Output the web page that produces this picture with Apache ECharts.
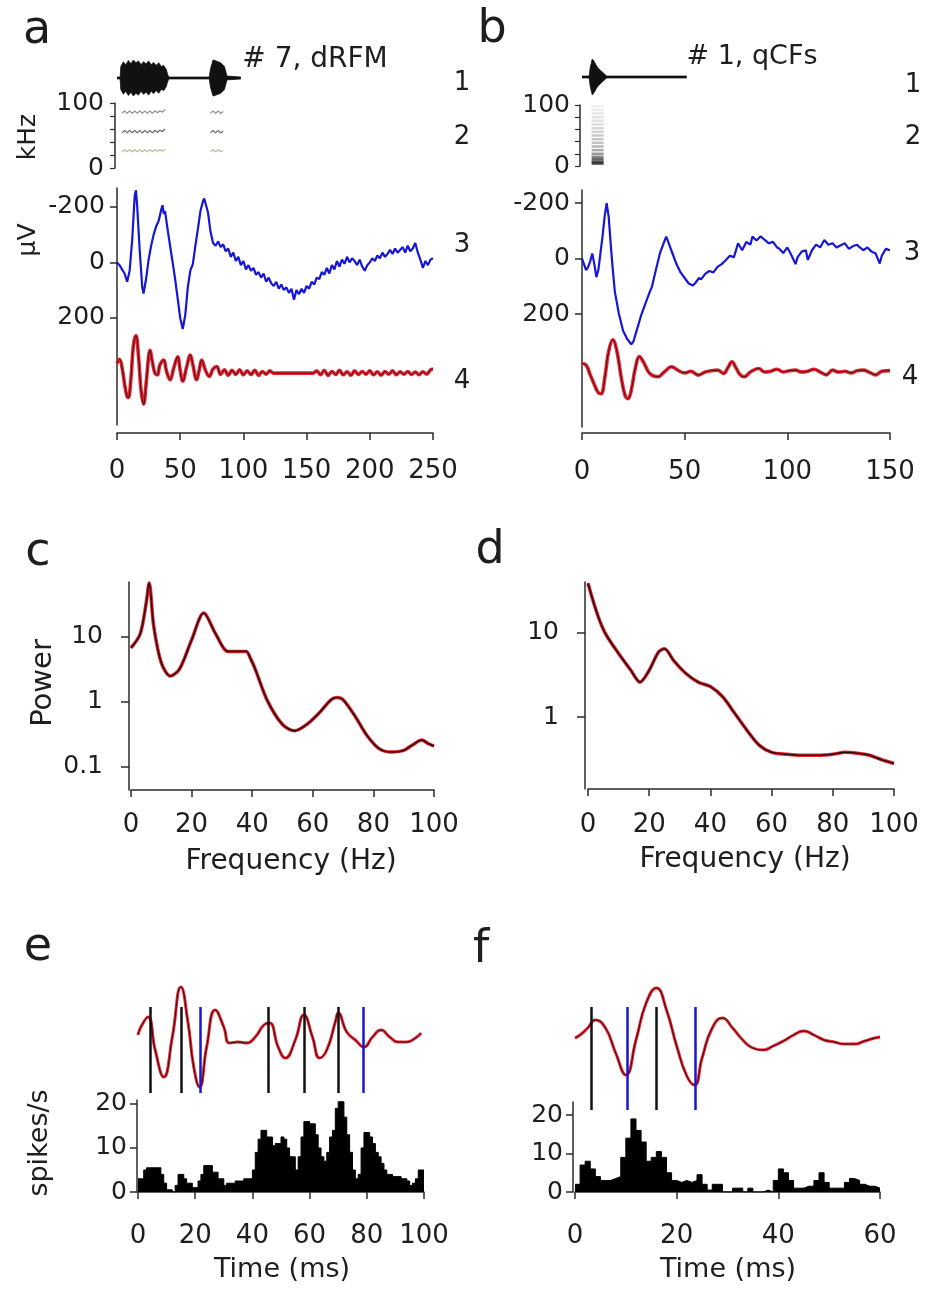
<!DOCTYPE html>
<html>
<head>
<meta charset="utf-8">
<script src="https://cdn.jsdelivr.net/npm/echarts@6.0.0/dist/echarts.min.js"></script>
<style>
  html, body { margin: 0; padding: 0; background: #fff; }
  #chart { width: 930px; height: 1294px; }
</style>
</head>
<body>
<div id="chart"></div>
<script>
// ---------- panel a : #7, dRFM ----------
// oscillogram envelope (ms, relative amplitude)
const aEnvelope = [[0,0.05],[2.5,0.05],[3,0.6],[5,0.85],[7,0.7],[9,0.92],[11,0.75],[13,0.95],[15,0.8],[17,0.9],
  [19,0.7],[21,0.86],[23,0.74],[25,0.9],[27,0.7],[29,0.82],[31,0.66],[33,0.8],[35,0.6],[37,0.66],[39,0.45],
  [40,0.2],[41,0.05],[73,0.05],[74,0.5],[76,0.95],[79,0.88],[82,0.8],[85,0.6],[87,0.1],[88,0.05],[98,0.05]];
// spectrogram bands (ms, kHz)
const aSpecHigh = [[4,84],[6,88],[8,84],[10,88],[12,84],[14,88],[16,84],[18,88],[20,84],[22,88],[24,84],[26,88],
  [28,84],[30,88],[32,85],[34,88],[36,86],[38,90],[40,'-'],[74,84],[76,88],[78,84],[80,88],[82,84],[84,87]];
const aSpecMid = [[4,54],[6,58],[8,54],[10,58],[12,54],[14,58],[16,54],[18,58],[20,54],[22,58],[24,54],[26,58],
  [28,54],[30,58],[32,55],[34,58],[36,56],[38,60],[40,'-'],[74,54],[76,58],[78,54],[80,58],[82,54],[84,57]];
const aSpecLow = [[4,25],[6,28],[8,25],[10,28],[12,25],[14,28],[16,25],[18,28],[20,25],[22,28],[24,25],[26,28],
  [28,25],[30,28],[32,26],[34,28],[36,26],[38,29],[40,'-'],[74,25],[76,28],[78,25],[80,28],[82,25],[84,27]];
// field potential, row 3 (ms, µV)
const aBlue = [[0,0],[2,10],[4,25],[6,40],[8,70],[10,30],[12,-80],[14,-240],[15,-260],[16,-200],[18,-40],[20,90],
  [21,112],[23,60],[25,-10],[27,-60],[29,-100],[31,-130],[33,-150],[35,-190],[36,-206],[37,-175],[38,-185],
  [40,-120],[42,-60],[44,0],[46,60],[48,130],[50,200],[52,240],[54,190],[56,90],[58,30],[60,6],[62,-60],
  [64,-120],[66,-185],[68,-220],[69,-230],[70,-225],[72,-180],[74,-110],[76,-70],[78,-60],[80,-75],[82,-55],
  [84,-65],[86,-40],[88,-50],[90,-20],[92,-35],[94,-5],[96,-20],[98,10],[100,-5],[102,25],[104,10],[106,30],
  [108,20],[110,45],[112,35],[114,55],[116,40],[118,70],[120,55],[122,75],[124,85],[126,70],[128,95],[130,80],
  [132,100],[134,90],[136,110],[138,95],[140,135],[142,100],[144,115],[146,95],[148,110],[150,85],[152,95],
  [154,70],[156,80],[158,55],[160,60],[162,35],[164,45],[166,20],[168,40],[170,10],[172,25],[174,-5],[176,15],
  [178,-10],[180,5],[182,-20],[184,0],[186,-15],[188,-5],[190,10],[192,-10],[194,15],[196,30],[198,10],[200,0],
  [202,-15],[204,-5],[206,-25],[208,-15],[210,-35],[212,-20],[214,-30],[216,-45],[218,-30],[220,-50],[222,-35],
  [224,-45],[226,-55],[228,-35],[230,-60],[232,-40],[234,-50],[236,-70],[238,-35],[240,-10],[242,20],[244,-5],
  [246,10],[248,-10],[250,-15]];
// filtered potential, row 4 (ms, µV)
const aRed = [[0,-35],[2,-50],[4,-20],[6,40],[8,85],[9,88],[11,20],[13,-100],[15,-135],[17,-60],[19,60],[21,112],
  [23,40],[25,-60],[26,-82],[28,-40],[30,0],[32,6],[34,-30],[37,-47],[39,-10],[42,24],[45,-20],[48,-59],[50,-10],
  [52,29],[55,-20],[58,-65],[60,-30],[63,24],[65,-10],[67,-47],[70,-10],[73,12],[76,-15],[79,-24],[82,5],
  [85,-12],[88,8],[91,-10],[94,5],[97,-12],[100,6],[103,-8],[106,5],[109,-10],[112,8],[115,-6],[118,4],[121,-8],
  [124,0],[130,0],[140,0],[150,0],[155,0],[158,-8],[161,6],[164,-10],[167,8],[170,-6],[173,5],[176,-10],[179,6],
  [182,-5],[185,8],[188,-8],[191,5],[194,-6],[197,4],[200,-8],[203,6],[206,-5],[209,8],[212,-6],[215,4],
  [218,-8],[221,6],[224,-5],[227,4],[230,-6],[233,5],[236,-4],[239,6],[242,-5],[245,4],[248,-12],[250,-15]];

// ---------- panel b : #1, qCFs ----------
const bEnvelope = [[0,0.05],[3.5,0.05],[4,0.5],[5,0.95],[6,0.8],[7,0.6],[8,0.45],[9,0.35],[10,0.25],[11,0.15],
  [12,0.05],[51,0.05]];
const bSpecTime = 7.6;
const bSpecFreqs = [98, 92, 86, 80, 74, 68, 62, 56, 50, 44, 38, 32, 26, 20, 15, 11, 7, 4];
const bSpecShade = [0.08, 0.1, 0.12, 0.14, 0.15, 0.17, 0.2, 0.22, 0.25, 0.28, 0.3, 0.35, 0.4, 0.5, 0.6, 0.75, 0.85, 0.9];
const bBlue = [[0,0],[2,42],[3,30],[4,10],[5,-18],[6,20],[7,67],[8,40],[9,-20],[10,-80],[11,-150],[12,-200],
  [13,-150],[14,-50],[15,40],[16,120],[18,200],[20,260],[22,290],[24,309],[25,300],[27,250],[29,200],[31,160],
  [33,120],[34,103],[36,40],[38,-20],[40,-60],[41,-79],[42,-60],[44,-20],[46,20],[48,50],[50,70],[52,90],
  [54,97],[55,90],[57,70],[58,75],[60,55],[62,45],[64,50],[66,30],[68,20],[70,6],[72,-10],[74,-5],[76,-55],
  [78,-30],[80,-60],[82,-50],[83,-79],[85,-65],[87,-80],[89,-67],[91,-55],[93,-60],[95,-40],[96,-36],[98,-20],
  [100,-40],[102,-12],[104,20],[105,-5],[107,-25],[109,-30],[110,5],[112,-30],[114,-50],[116,-40],[118,-67],
  [120,-50],[122,-55],[124,-40],[126,-48],[128,-55],[130,-35],[132,-45],[134,-50],[135,-42],[137,-30],[139,-40],
  [141,-25],[143,-18],[145,18],[146,-10],[148,-35],[150,-30]];
const bRed = [[0,-36],[2,-30],[4,5],[6,40],[8,70],[9.4,73],[11,20],[13,-80],[15,-121],[17,-80],[19,10],[21,80],
  [22.4,91],[24,60],[26,-20],[28,-61],[30,-40],[33,0],[37,12],[40,-5],[43.6,-24],[47,-10],[50,-2],[53,-8],
  [56.6,6],[60,-5],[63,-10],[66,-12],[69,0],[71,-20],[73,-42],[75,-20],[77,5],[79,12],[82,-5],[86,-18],[89,-5],
  [92,-8],[95,-15],[98,-5],[101,-10],[104,-12],[107,-5],[110,-8],[113,-15],[116,-5],[119,5],[122,-12],[125,-5],
  [128,-8],[131,-2],[134,-10],[137,-12],[140,-4],[143,5],[146,-8],[150,-10]];

// ---------- panels c, d : power spectra ----------
const cFreq  = [0, 3, 5, 6, 7.5, 10, 13, 16, 20, 24, 28, 32, 35, 38, 39.5, 41, 45, 50, 54, 58, 62, 66, 68, 70, 74, 78, 82, 86, 90, 93, 96, 98, 100];
const cPower = [6.8, 11, 33, 68, 14.6, 4, 2.5, 3.2, 9, 23.4, 11, 6, 6, 6, 4.6, 3.2, 1.05, 0.45, 0.36, 0.45, 0.67, 1.08, 1.17, 1.08, 0.6, 0.3, 0.19, 0.17, 0.18, 0.22, 0.26, 0.23, 0.21];
const dFreq  = [0, 2, 4, 6, 10, 14, 17, 20, 23, 25, 28, 32, 36, 40, 44, 48, 52, 56, 60, 65, 70, 75, 80, 84, 88, 92, 96, 100];
const dPower = [39, 22, 13.5, 9.4, 5.7, 3.6, 2.6, 3.6, 5.9, 6.5, 4.7, 3.3, 2.6, 2.3, 1.74, 1.1, 0.69, 0.46, 0.38, 0.36, 0.35, 0.35, 0.36, 0.38, 0.37, 0.35, 0.31, 0.28];
const powerTicks = [0.1, 1, 10];

// ---------- panels e, f : averaged LFP + PSTH ----------
const eTrace = [[0,0],[1,8],[3.5,18],[6,-15],[9,-42],[12,-2],[15,48],[17.5,12],[19.5,-32],[21.5,-52],[24,-12],
  [27,25],[30,8],[32,-8],[35,-7],[38,-8],[41,-2],[44,10],[46,12],[49,-12],[51.5,-23],[55,-5],[58,20],[61,-2],
  [63.5,-23],[66,-15],[69,13],[70,22],[73,3],[76,-5],[79,-12],[82,-2],[85,5],[88,-2],[91,-7],[94,-7],[97,-3],[99,2]];
const eBlack = [4.3, 15.2, 45.5, 58.3, 70.0];
const eBlue = [21.6, 78.8];
// spikes/s in 1 ms bins, 0-100 ms
const eHist = [3,3,5,5.5,5.5,5.5,5.5,5.5,4,2, 0.5,0.5,0,1.5,4,4,3,2,2,1, 1,2.5,4,6,6,6,4.5,4.5,3,3,
  1.5,2,2,2,2.5,2.5,2.5,3,3,3, 5,9,12,14,14,12.5,12.5,10.5,11,11, 12.5,12,10,8,8,5,8,12.5,16,16,
  15.5,15.5,13,10,8,7,9,12.5,14,19, 20.5,20.5,17,13,9,5,3,4,10,13.5, 13.5,12.5,11,9,8,6.5,5,4,4,3.5,
  3.5,3.5,3,3,2.5,1.5,2,3,5,5];
const fTrace = [[0,0],[1,3],[2.5,10],[4,18],[6,10],[8,-15],[10,-37],[12,-2],[14,35],[16,50],[18,28],[20,-8],
  [22,-38],[23.5,-47],[25,-20],[27,10],[29,20],[31,10],[33,-2],[35,-10],[37,-12],[39,-8],[41,-3],[43,3],[45,7],
  [47,3],[49,-2],[51,-4],[53,-6],[55,-6],[57,-3],[59,0],[60,1]];
const fBlack = [3.1, 15.9];
const fBlue = [10.2, 23.6];
// spikes/s in 1 ms bins, 0-60 ms
const fHist = [2,7,8,6,4,3,3,3.5,4,9, 14,19,16,13,8,9,10.5,9,5,3, 2.5,3,2.5,3,4.5,2,0.5,2,2,0,
  0,1,1,0,1,0,0,0.5,0,3, 6,5,3,1,1,1.5,1.5,3,5,2.5, 1,1,1,2.5,3.5,3,2,1.5,1.5,1];
const histTicks = [0, 10, 20];

// ---------- style ----------
const FONT = 'DejaVu Sans';
const AX = '#2b2b2b';
const TXT = '#1e1e1e';
const BLUE = '#1616d6';
const RED = '#ec2433';
const CORE = '#2a0c0c';

function hidden(gridIndex, min, max, extra) {
  return Object.assign({ type: 'value', gridIndex, min, max, show: false }, extra || {});
}
function visible(gridIndex, min, max, extra) {
  return Object.assign({
    type: 'value', gridIndex, min, max,
    axisLine: { show: true, onZero: false, lineStyle: { color: AX, width: 1.5 } },
    axisTick: { show: true, length: 7, lineStyle: { color: AX, width: 1.5 } },
    axisLabel: { color: TXT, fontFamily: FONT, fontSize: 26 },
    splitLine: { show: false }
  }, extra || {});
}
function xLabel(margin) {
  return { color: TXT, fontFamily: FONT, fontSize: 26, margin };
}
function grid(left, top, width, height) {
  return { left, top, width, height, containLabel: false, outerBoundsMode: 'none' };
}
function lineSeries(x, y, data, color, width, smooth, z) {
  return { type: 'line', xAxisIndex: x, yAxisIndex: y, data, symbol: 'none', smooth: smooth,
    lineStyle: { color, width }, z: z || 2, silent: true };
}
function envelope(x, y, data, sign) {
  return { type: 'line', xAxisIndex: x, yAxisIndex: y, symbol: 'none', silent: true,
    data: data.map(p => [p[0], sign * p[1]]),
    lineStyle: { color: '#111', width: 0.8 }, areaStyle: { color: '#111', opacity: 1 } };
}
function baseline(x, y, data) {
  // thin line under the whole sound trace
  return lineSeries(x, y, [[data[0][0], 0], [data[data.length - 1][0], 0]], '#111', 2, false, 3);
}
function histSeries(x, y, vals) {
  const d = vals.map((v, i) => [i, v]);
  d.push([vals.length, vals[vals.length - 1]]);
  return { type: 'line', xAxisIndex: x, yAxisIndex: y, data: d, step: 'end', symbol: 'none', silent: true,
    lineStyle: { color: '#000', width: 1 }, areaStyle: { color: '#000', opacity: 1 } };
}
function eventLines(black, blue, top, bottom) {
  const item = (t, color) => [{ coord: [t, top], lineStyle: { color } }, { coord: [t, bottom] }];
  return {
    silent: true, symbol: ['none', 'none'], label: { show: false }, animation: false,
    lineStyle: { width: 2.5, type: 'solid' },
    data: black.map(t => item(t, '#111')).concat(blue.map(t => item(t, BLUE)))
  };
}
const logFmt = v => String(Math.round(Math.pow(10, v) * 10) / 10);

const chart = echarts.init(document.getElementById('chart'), null, { renderer: 'canvas' });

const option = {
  backgroundColor: '#fff',
  animation: false,
  grid: [
    grid(117, 59, 316, 38),    // 0 a oscillogram
    grid(117, 103, 316, 65),   // 1 a spectrogram
    grid(117, 188, 316, 237),  // 2 a potentials
    grid(582, 58, 308, 38),    // 3 b oscillogram
    grid(582, 105, 308, 61),   // 4 b spectrogram
    grid(582, 190, 308, 237),  // 5 b potentials
    grid(131, 582, 303, 208),  // 6 c
    grid(588, 582, 306, 207),  // 7 d
    grid(138, 980, 286, 120),  // 8 e trace
    grid(138, 1100, 286, 92),  // 9 e histogram
    grid(575, 980, 305, 130),  // 10 f trace
    grid(575, 1102, 305, 90)   // 11 f histogram
  ],
  xAxis: [
    hidden(0, 0, 250),
    hidden(1, 0, 250),
    visible(2, 0, 250, { interval: 50, offset: 8, axisLabel: xLabel(25) }),
    hidden(3, 0, 150),
    hidden(4, 0, 150),
    visible(5, 0, 150, { interval: 50, offset: 6, axisLabel: xLabel(26) }),
    visible(6, 0, 100, { interval: 20, axisLabel: xLabel(22) }),
    visible(7, 0, 100, { interval: 20, axisLabel: xLabel(23) }),
    hidden(8, 0, 100),
    visible(9, 0, 100, { interval: 20, axisLabel: xLabel(31) }),
    hidden(10, 0, 60),
    visible(11, 0, 60, { interval: 20, axisLabel: xLabel(31) })
  ],
  yAxis: [
    hidden(0, -1, 1),
    visible(1, 0, 100, { offset: 2,
      axisTick: { show: true, length: 5, customValues: [0, 20, 40, 60, 80, 100], lineStyle: { color: AX, width: 1.2 } },
      axisLabel: { color: TXT, fontFamily: FONT, fontSize: 25, margin: 11, customValues: [0, 100] } }),
    visible(2, -268, 586, { inverse: true,
      axisTick: { show: true, length: 7, customValues: [-200, 0, 200], lineStyle: { color: AX, width: 1.5 } },
      axisLabel: { color: TXT, fontFamily: FONT, fontSize: 25, margin: 12, customValues: [-200, 0, 200] } }),
    hidden(2, -667, 187, { inverse: true }),
    hidden(3, -1, 1),
    visible(4, 0, 100, { offset: 2,
      axisTick: { show: true, length: 5, customValues: [0, 20, 40, 60, 80, 100], lineStyle: { color: AX, width: 1.2 } },
      axisLabel: { color: TXT, fontFamily: FONT, fontSize: 25, margin: 10, customValues: [0, 100] } }),
    visible(5, -247, 607, { inverse: true,
      axisTick: { show: true, length: 7, customValues: [-200, 0, 200], lineStyle: { color: AX, width: 1.5 } },
      axisLabel: { color: TXT, fontFamily: FONT, fontSize: 25, margin: 12, customValues: [-200, 0, 200] } }),
    hidden(5, -661, 193, { inverse: true }),
    visible(6, -1.354, 1.846, { offset: 2,
      axisTick: { show: true, length: 8, customValues: powerTicks.map(Math.log10), lineStyle: { color: AX, width: 1.5 } },
      axisLabel: { color: TXT, fontFamily: FONT, fontSize: 25, margin: 26, customValues: powerTicks.map(Math.log10), formatter: logFmt } }),
    visible(7, -0.857, 1.607, { offset: 3,
      axisTick: { show: true, length: 8, customValues: [0, 1], lineStyle: { color: AX, width: 1.5 } },
      axisLabel: { color: TXT, fontFamily: FONT, fontSize: 25, margin: 26, customValues: [0, 1], formatter: logFmt } }),
    hidden(8, -65, 55),
    visible(9, 0, 20.9, { offset: 1,
      axisTick: { show: true, length: 7, customValues: histTicks, lineStyle: { color: AX, width: 1.5 } },
      axisLabel: { color: TXT, fontFamily: FONT, fontSize: 25, margin: 10, customValues: histTicks } }),
    hidden(10, -72, 58),
    visible(11, 0, 23.4, { offset: 2,
      axisTick: { show: true, length: 7, customValues: histTicks, lineStyle: { color: AX, width: 1.5 } },
      axisLabel: { color: TXT, fontFamily: FONT, fontSize: 25, margin: 10, customValues: histTicks } })
  ],
  series: [
    // a
    envelope(0, 0, aEnvelope, 1),
    envelope(0, 0, aEnvelope, -1),
    baseline(0, 0, aEnvelope),
    lineSeries(1, 1, aSpecHigh, '#8c8c8c', 1.2, false),
    lineSeries(1, 1, aSpecMid, '#666', 1.2, false),
    lineSeries(1, 1, aSpecLow, '#bdbb8e', 1.2, false),
    lineSeries(2, 2, aBlue, BLUE, 2.2, false),
    lineSeries(2, 3, aRed, RED, 3.6, 0.4),
    lineSeries(2, 3, aRed, CORE, 0.9, 0.4, 3),
    // b
    envelope(3, 4, bEnvelope, 1),
    envelope(3, 4, bEnvelope, -1),
    baseline(3, 4, bEnvelope),
    { type: 'scatter', xAxisIndex: 4, yAxisIndex: 5, symbol: 'rect', symbolSize: [12, 2.5], silent: true,
      data: bSpecFreqs.map((f, i) => {
        const g = Math.round(255 * (1 - bSpecShade[i]));
        return { value: [bSpecTime, f], itemStyle: { color: `rgb(${g},${g},${g})` } };
      }) },
    lineSeries(5, 6, bBlue, BLUE, 2.2, false),
    lineSeries(5, 7, bRed, RED, 3.6, 0.4),
    lineSeries(5, 7, bRed, CORE, 0.9, 0.4, 3),
    // c, d
    lineSeries(6, 8, cFreq.map((f, i) => [f, Math.log10(cPower[i])]), RED, 3.5, 0.3),
    lineSeries(6, 8, cFreq.map((f, i) => [f, Math.log10(cPower[i])]), CORE, 1.6, 0.3, 3),
    lineSeries(7, 9, dFreq.map((f, i) => [f, Math.log10(dPower[i])]), RED, 3.5, 0.3),
    lineSeries(7, 9, dFreq.map((f, i) => [f, Math.log10(dPower[i])]), CORE, 1.6, 0.3, 3),
    // e
    lineSeries(8, 10, eTrace, RED, 3, 0.5),
    Object.assign(lineSeries(8, 10, eTrace, CORE, 1, 0.5, 3), { markLine: eventLines(eBlack, eBlue, 28, -58) }),
    histSeries(9, 11, eHist),
    // f
    lineSeries(10, 12, fTrace, RED, 3, 0.5),
    Object.assign(lineSeries(10, 12, fTrace, CORE, 1, 0.5, 3), { markLine: eventLines(fBlack, fBlue, 31, -72) }),
    histSeries(11, 13, fHist)
  ],
  graphic: []
};

// panel letters, titles, row numbers and axis names
const labels = [
  ['a', 37, 31, 46], ['b', 492, 30, 46], ['c', 38, 553, 46], ['d', 490, 551, 46], ['e', 38, 948, 46], ['f', 481, 950, 46],
  ['# 7, dRFM', 315, 60, 28], ['# 1, qCFs', 752, 57, 27],
  ['1', 462, 83, 26], ['2', 462, 137, 26], ['3', 462, 245, 26], ['4', 462, 381, 26],
  ['1', 913, 85, 26], ['2', 913, 137, 26], ['3', 912, 253, 26], ['4', 910, 377, 26],
  ['Frequency (Hz)', 291, 862, 28], ['Frequency (Hz)', 745, 860, 28],
  ['Time (ms)', 282, 1270, 27], ['Time (ms)', 728, 1270, 27]
];
const rotated = [['kHz', 28, 137, 25], ['μV', 28, 240, 25], ['Power', 43, 683, 29], ['spikes/s', 40, 1143, 27]];
labels.forEach(([text, x, y, size]) => option.graphic.push({
  type: 'text', x, y, silent: true,
  style: { text, fill: TXT, fontFamily: FONT, fontSize: size, textAlign: 'center', textVerticalAlign: 'middle' }
}));
rotated.forEach(([text, x, y, size]) => option.graphic.push({
  type: 'text', x, y, rotation: Math.PI / 2, silent: true,
  style: { text, fill: TXT, fontFamily: FONT, fontSize: size, textAlign: 'center', textVerticalAlign: 'middle' }
}));

chart.setOption(option);
</script>
</body>
</html>
